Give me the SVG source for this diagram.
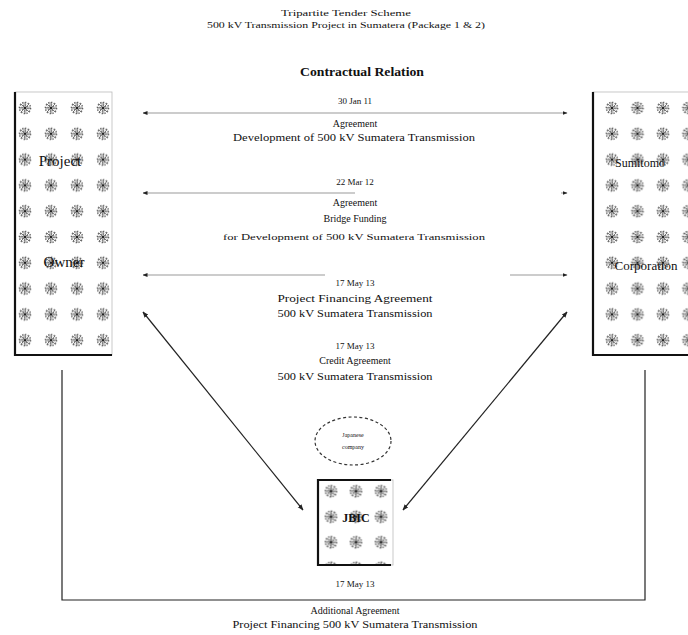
<svg xmlns="http://www.w3.org/2000/svg" width="688" height="635" viewBox="0 0 688 635">
<style>
text{font-family:"Liberation Serif","Times New Roman",serif;fill:#111;text-anchor:middle}
.t{font-size:10px}
.s{font-size:9px}
.big{font-size:15px}
.edge{stroke:#222;stroke-width:1.2;fill:none}
.faint{stroke:#999;stroke-width:1;fill:none}
.thick{stroke:#111;stroke-width:2.2;fill:none}
.frame{stroke:#bbb;stroke-width:0.8}
</style>
<defs>
<g id="star">
<circle r="5.5" fill="none" stroke="#666" stroke-width="1.6" stroke-dasharray="1.4,1.4"/>
<circle r="3" fill="none" stroke="#777" stroke-width="1.3" stroke-dasharray="1.2,1.1"/>
<g stroke="#555" stroke-width="0.8">
<line x1="0" y1="-6" x2="0" y2="6"/><line x1="-6" y1="0" x2="6" y2="0"/>
<line x1="-4.3" y1="-4.3" x2="4.3" y2="4.3"/><line x1="-4.3" y1="4.3" x2="4.3" y2="-4.3"/>
</g>
<circle r="1.3" fill="#222"/>
</g>
<pattern id="pL" patternUnits="userSpaceOnUse" x="12" y="95.1" width="26" height="25.8"><use href="#star" x="13" y="12.9"/></pattern>
<pattern id="pR" patternUnits="userSpaceOnUse" x="599.25" y="95.1" width="25.5" height="25.8"><use href="#star" x="12.75" y="12.9"/></pattern>
<pattern id="pB" patternUnits="userSpaceOnUse" x="318.5" y="478.5" width="25" height="25.5"><use href="#star" x="12.5" y="12.75"/></pattern>
<marker id="ah" viewBox="0 0 10 10" refX="9" refY="5" markerWidth="5" markerHeight="5" orient="auto-start-reverse"><path d="M0,1 L10,5 L0,9 z" fill="#222"/></marker>
</defs>

<g id="title">
<text x="346" y="16" class="s" textLength="130" lengthAdjust="spacingAndGlyphs">Tripartite Tender Scheme</text>
<text x="346" y="28" class="s" textLength="278" lengthAdjust="spacingAndGlyphs">500 kV Transmission Project in Sumatera (Package 1 &amp; 2)</text>
<text x="362" y="76" style="font-size:12px;font-weight:bold" textLength="124" lengthAdjust="spacingAndGlyphs">Contractual Relation</text>
</g>

<g id="project-owner">
<rect x="15" y="92" width="97" height="263" fill="url(#pL)" class="frame"/>
<line x1="15" y1="92" x2="15" y2="356" class="thick"/>
<line x1="14" y1="355" x2="112" y2="355" class="thick"/>
<text x="60" y="166" class="big">Project</text>
<text x="64" y="267" class="big">Owner</text>
</g>

<g id="sumitomo">
<rect x="593" y="92" width="100" height="263" fill="url(#pR)" class="frame"/>
<line x1="593" y1="92" x2="593" y2="356" class="thick"/>
<line x1="592" y1="355" x2="688" y2="355" class="thick"/>
<text x="640" y="167" style="font-size:12px">Sumitomo</text>
<text x="646" y="270" style="font-size:13px">Corporation</text>
</g>

<g id="jbic">
<rect x="318" y="480" width="75" height="85" fill="url(#pB)" class="frame"/>
<line x1="318" y1="479" x2="318" y2="566" class="thick"/>
<line x1="317" y1="480" x2="391" y2="480" class="thick"/>
<line x1="317" y1="565" x2="391" y2="565" class="thick"/>
<text x="356" y="522" style="font-size:12px;font-weight:bold">JBIC</text>
</g>

<g id="insurer">
<ellipse cx="353" cy="441" rx="38" ry="24" fill="#fff" stroke="#333" stroke-width="1.2" stroke-dasharray="3,2.5"/>
<text x="353" y="437" style="font-size:6px">Japanese</text>
<text x="353" y="449" style="font-size:6px">company</text>
</g>

<g id="connectors">
<line x1="143" y1="113" x2="567" y2="113" class="faint" stroke="#888" marker-start="url(#ah)" marker-end="url(#ah)"/>
<line x1="143" y1="193" x2="355" y2="193" class="faint" marker-start="url(#ah)"/>
<path d="M561,193 L567,193" class="faint" marker-end="url(#ah)"/>
<line x1="143" y1="275" x2="325" y2="275" class="faint" marker-start="url(#ah)"/>
<line x1="510" y1="275" x2="567" y2="275" class="faint" marker-end="url(#ah)"/>
<line x1="143" y1="312" x2="303" y2="510" class="edge" marker-start="url(#ah)" marker-end="url(#ah)"/>
<line x1="567" y1="312" x2="403" y2="510" class="edge" marker-start="url(#ah)" marker-end="url(#ah)"/>
<polyline points="62,370 62,600 645,600 645,370" class="edge" stroke-width="1.6"/>
</g>

<g id="labels">
<text x="355" y="104" class="s">30 Jan 11</text>
<text x="355" y="127" class="t">Agreement</text>
<text x="354" y="141" class="t" textLength="242" lengthAdjust="spacingAndGlyphs">Development of 500 kV Sumatera Transmission</text>
<text x="355" y="185" class="s">22 Mar 12</text>
<text x="355" y="206" class="t">Agreement</text>
<text x="355" y="222" class="t">Bridge Funding</text>
<text x="354" y="240" class="s" textLength="262" lengthAdjust="spacingAndGlyphs">for Development of 500 kV Sumatera Transmission</text>
<text x="355" y="286" class="s">17 May 13</text>
<text x="355" y="302" class="t" textLength="155" lengthAdjust="spacingAndGlyphs">Project Financing Agreement</text>
<text x="355" y="317" class="t" textLength="155" lengthAdjust="spacingAndGlyphs">500 kV Sumatera Transmission</text>
<text x="355" y="349" class="s">17 May 13</text>
<text x="355" y="364" class="t">Credit Agreement</text>
<text x="355" y="380" class="t" textLength="155" lengthAdjust="spacingAndGlyphs">500 kV Sumatera Transmission</text>
<text x="355" y="587" class="s">17 May 13</text>
<text x="355" y="614" class="t">Additional Agreement</text>
<text x="355" y="628" class="t" textLength="245" lengthAdjust="spacingAndGlyphs">Project Financing 500 kV Sumatera Transmission</text>
</g>
</svg>
